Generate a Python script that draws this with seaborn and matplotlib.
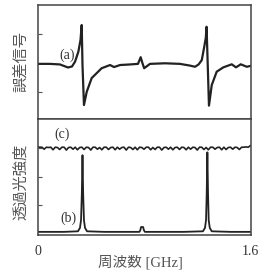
import numpy as np
import matplotlib
matplotlib.use("Agg")
import matplotlib.pyplot as plt
import seaborn as sns

# ---- data ----
# (a) error signal, frequency [GHz] and amplitude (arb.)
a_freq = [0.0, 0.094, 0.169, 0.229, 0.259, 0.282, 0.307, 0.323, 0.332, 0.338, 0.349,
          0.370, 0.407, 0.482, 0.545, 0.575, 0.620, 0.695, 0.755, 0.775, 0.788, 0.801,
          0.845, 0.958, 1.070, 1.146, 1.183, 1.210, 1.234, 1.251, 1.264, 1.270, 1.279,
          1.288, 1.309, 1.346, 1.396, 1.459, 1.491, 1.527, 1.572, 1.600]
a_sig = [-0.03, -0.03, -0.05, -0.155, -0.12, 0.045, 0.39, 0.79, 1.31, -0.07, -1.45,
         -0.99, -0.52, -0.18, -0.07, -0.14, -0.07, -0.05, -0.03, 0.20, 0.0, -0.18,
         -0.03, -0.01, -0.03, -0.09, -0.13, -0.05, 0.10, 0.52, 0.86, 1.25, -0.10,
         -1.47, -0.76, -0.30, -0.15, -0.045, -0.15, -0.045, -0.13, -0.10]

# (b) transmitted intensity through the cavity
b_freq = [0.0, 0.10, 0.20, 0.304, 0.319, 0.327, 0.333, 0.338, 0.343, 0.349, 0.357, 0.372,
          0.50, 0.65, 0.765, 0.772, 0.778, 0.793, 0.800, 0.807, 0.95, 1.10, 1.243,
          1.258, 1.266, 1.271, 1.276, 1.281, 1.286, 1.294, 1.309, 1.45, 1.60]
b_int = [0.07, 0.07, 0.07, 0.09, 0.21, 0.48, 1.41, 2.76, 1.41, 0.48, 0.21, 0.09,
         0.07, 0.07, 0.07, 0.12, 0.24, 0.24, 0.12, 0.07, 0.07, 0.07, 0.09,
         0.21, 0.48, 1.41, 2.86, 1.41, 0.48, 0.21, 0.09, 0.07, 0.07]

# (c) laser power reference (flat with small downward dips)
c_int = [3.05, 3.04, 3.04, 2.97, 3.04, 3.03, 3.04, 2.95, 3.04, 3.03, 2.96, 3.04, 3.04,
         2.94, 3.03, 3.04, 2.97, 3.04, 2.95, 3.03, 3.04, 2.96, 3.04, 3.03, 2.94, 3.04,
         3.04, 2.97, 3.03, 2.95, 3.04, 3.04, 2.96, 3.03, 3.04, 2.95, 3.04, 2.97, 3.03,
         3.04, 2.94, 3.04, 3.03, 2.96, 3.04, 2.95, 3.04, 3.03, 2.97, 3.04, 3.04, 2.95,
         3.03, 2.96, 3.04, 3.04, 2.94, 3.03, 3.04, 2.97, 3.04, 2.95, 3.03, 3.04, 2.96,
         3.04, 3.03, 2.95, 3.04, 2.97, 3.04, 3.03, 2.94, 3.04, 3.04, 2.96, 3.03, 2.95,
         3.04, 3.04, 2.97, 3.03, 3.04, 2.95, 3.04, 2.96, 3.03, 3.04, 2.97, 3.04, 3.03,
         2.96, 3.04, 3.04, 3.05, 3.04, 3.10]
c_freq = np.linspace(0.0, 1.6, len(c_int))

x_ticks = [0, 1.6]
x_ticklabels = ["0", "1.6"]
xlabel = "周波数 [GHz]"
ylabel_top = "誤差信号"
ylabel_bot = "透過光強度"

# ---- style ----
sns.set_style("ticks")
plt.rcParams["font.family"] = ["Liberation Serif", "Noto Sans CJK JP", "DejaVu Sans"]
ink = "#222222"
txt = "#333333"

fig = plt.figure(figsize=(2.62, 2.70), dpi=100)
L, R = 37.5 / 262, 250.5 / 262
top_y, mid_y, bot_y = 1 - 5 / 270, 1 - 119 / 270, 1 - 235 / 270
ax1 = fig.add_axes([L, mid_y, R - L, top_y - mid_y])
ax2 = fig.add_axes([L, bot_y, R - L, mid_y - bot_y])

sns.lineplot(x=a_freq, y=a_sig, ax=ax1, color=ink, lw=1.6, sort=False)
sns.lineplot(x=b_freq, y=b_int, ax=ax2, color=ink, lw=1.3, sort=False)
sns.lineplot(x=c_freq, y=c_int, ax=ax2, color=ink, lw=1.2, sort=False)

ax1.set_xlim(0, 1.6)
ax2.set_xlim(0, 1.6)
ax1.set_ylim((63 - 119) / 29, (63 - 5) / 29)
ax2.set_ylim(-0.04, 4.03)

for ax in (ax1, ax2):
    for s in ax.spines.values():
        s.set_color("#444444")
        s.set_linewidth(1.1)
        s.set_visible(True)
    ax.tick_params(axis="y", direction="in", length=3, width=0.8, color="#555555",
                   labelleft=False)
    ax.set_ylabel("")
    ax.set_xlabel("")

ax1.set_yticks([-1, 1])
ax2.set_yticks([1, 2, 3])
ax1.set_xticks([])
ax2.set_xticks(x_ticks)
ax2.set_xticklabels(x_ticklabels, fontsize=10, color=txt)
ax2.tick_params(axis="x", length=0, pad=7)

fig.text(20.5 / 262, 1 - 62 / 270, ylabel_top, rotation=90, ha="center", va="center",
         fontsize=11, color="#555555")
fig.text(20.5 / 262, 1 - 182 / 270, ylabel_bot, rotation=90, ha="center", va="center",
         fontsize=11, color="#555555")
fig.text(140 / 262, 1 - 262 / 270, xlabel, ha="center", va="center",
         fontsize=10.5, color="#555555")

ax1.text(0.22, 0.28, "(a)", ha="center", va="center", fontsize=10, color=txt)
ax2.text(0.229, 0.55, "(b)", ha="center", va="center", fontsize=10, color=txt)
ax2.text(0.188, 3.5, "(c)", ha="center", va="center", fontsize=10, color=txt)

fig.savefig("out.png", dpi=100)
